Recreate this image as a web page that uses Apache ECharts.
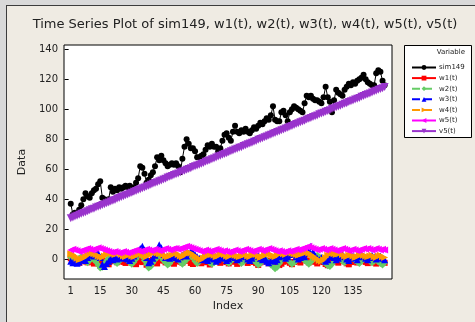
<!DOCTYPE html>
<html>
<head>
<meta charset="utf-8">
<script src="https://cdn.jsdelivr.net/npm/echarts@6/dist/echarts.min.js"></script>
<style>
  body { margin: 0; background: #d9d9d9; }
  .frame { position: absolute; left: 6px; top: 5px; width: 469px; height: 317px;
    background: #efebe3; border-left: 1px solid #3c3c3c; border-top: 1px solid #3c3c3c; box-sizing: border-box; }
  #chart { position: absolute; left: 0; top: 0; width: 475px; height: 322px; }
</style>
</head>
<body>
<div class="frame"></div>
<div id="chart"></div>
<script>
  // values
  let xTicks = [1, 15, 30, 45, 60, 75, 90, 105, 120, 135];
  let yTicks = [0, 20, 40, 60, 80, 100, 120, 140];
  let seriesNames = ['sim149', 'w1(t)', 'w2(t)', 'w3(t)', 'w4(t)', 'w5(t)', 'v5(t)'];

  let sim149 = [
    37, 30, 31, 30, 33, 36, 40, 44, 42, 41, 44, 46, 47, 50, 52, 41, 40, 39, 40, 48,
    45, 47, 46, 48, 47, 48, 49, 48, 49, 45, 48, 51, 54, 62, 61, 57, 51, 53, 56, 58,
    62, 68, 66, 69, 66, 64, 62, 63, 64, 63, 64, 62, 58, 67, 75, 80, 77, 74, 74, 72,
    68, 68, 69, 70, 73, 76, 75, 77, 75, 75, 72, 74, 79, 83, 84, 81, 79, 85, 89, 85,
    84, 86, 85, 87, 85, 84, 86, 88, 87, 89, 91, 90, 92, 94, 93, 96, 102, 93, 92, 92,
    98, 99, 96, 92, 98, 100, 102, 101, 100, 99, 98, 104, 109, 108, 109, 107, 106, 106, 105, 104,
    108, 115, 108, 105, 98, 106, 113, 111, 110, 109, 113, 115, 117, 116, 118, 117, 119, 120, 121, 123,
    120, 118, 117, 116, 116, 124, 126, 125, 119, 116
  ];

  let w1 = [
    0.5, -1.2, -2.0, -0.8, -2.5, -1.0, 0.3, -1.6, -2.2, -0.5,
    -1.8, -3.0, -1.1, -0.2, -4.2, -2.8, -1.0, -2.4, -3.5, -1.5,
    0.2, -0.9, -2.1, -1.3, -0.4, -1.9, -2.6, -0.7, 0.4, -1.4,
    -2.3, -3.4, -1.6, -0.6, -2.0, -1.1, -3.8, -2.5, -1.2, -0.3,
    -1.7, -2.9, -0.8, 0.6, -1.0, -2.2, -1.5, -0.4, -2.7, -3.1,
    -1.3, -0.2, -1.8, -2.4, -0.9, 0.5, -1.1, -2.6, -3.3, -1.7,
    -0.5, -1.4, -2.8, -1.9, -0.6, -2.1, -3.6, -2.3, -1.0, 0.2,
    -1.2, -2.5, -1.6, -0.3, -2.0, -2.9, -1.4, -0.7, -1.8, -3.2,
    -2.1, -0.8, 0.4, -1.3, -2.6, -1.5, -0.2, -1.9, -2.7, -3.9,
    -2.2, -1.1, -0.4, -1.7, -2.8, -1.0, 0.3, -1.6, -2.4, -4.0,
    -3.1, -1.8, -0.6, -1.2, -2.5, -3.4, -1.9, -0.9, -1.5, -2.3,
    -0.7, 0.5, -1.0, -2.2, -1.4, -0.3, -1.8, -2.9, -1.6, -0.8,
    -2.0, -3.3, -4.1, -2.6, -1.3, -0.5, -1.7, -2.4, -1.1, -0.2,
    -1.5, -2.8, -3.5, -2.0, -0.9, -1.6, -2.3, -1.2, 0.1, -0.8,
    -1.9, -2.7, -1.4, -0.6, -2.1, -3.0, -1.8, -0.7, -1.3, -2.5
  ];

  let w2 = [
    1.0, -0.5, -2.0, -1.0, 0.5, 1.5, 0.0, -1.5, -2.5, -1.0,
    0.5, -0.5, -2.0, -4.0, -6.0, -5.5, -3.0, -1.0, 0.5, 1.0,
    -0.5, -2.0, -3.0, -1.5, 0.0, 1.5, 0.5, -1.0, -2.5, -3.5,
    -2.0, 0.0, 2.0, 3.0, 1.5, -1.0, -3.5, -6.0, -5.0, -2.5,
    -0.5, 1.0, 2.5, 1.0, -1.0, -2.5, -4.0, -3.0, -1.0, 0.5,
    1.5, 0.0, -2.0, -3.5, -2.0, -0.5, 1.0, 2.0, 0.5, -1.5,
    -3.0, -2.0, 0.0, 1.5, 0.5, -1.0, -2.5, -3.5, -2.5, -1.0,
    0.5, 2.0, 1.0, -0.5, -2.0, -3.0, -1.5, 0.0, 1.0, 0.0,
    -1.5, -3.0, -2.0, -0.5, 1.0, 2.0, 0.5, -1.0, -2.5, -4.0,
    -3.0, -1.0, 0.5, -1.0, -2.5, -4.0, -5.0, -6.5, -5.5, -3.0,
    -1.0, 0.5, 1.5, 0.0, -2.0, -3.5, -2.5, -1.0, 0.5, 1.5,
    0.5, -1.0, -2.0, -3.5, -2.0, -0.5, 1.0, 2.5, 1.5, -0.5,
    -2.0, -3.0, -4.5, -5.0, -3.5, -1.5, 0.0, 1.0, 0.0, -1.5,
    -2.5, -1.0, 0.5, 1.5, 0.5, -1.0, -2.0, -3.0, -1.5, 0.0,
    1.0, 0.0, -1.5, -2.5, -1.5, -0.5, -2.0, -3.0, -4.0, -2.5
  ];

  let w3 = [
    -1.5, -2.5, -1.0, -2.8, -2.0, -0.5, 0.5, -1.0, 1.0, 2.5,
    3.5, 2.0, 3.0, 4.0, 1.0, -3.5, -5.0, -3.0, -1.5, 0.5,
    -0.5, 1.5, 0.0, 1.0, 2.0, 0.5, 1.5, 0.0, -1.0, 0.5,
    2.0, 3.5, 5.5, 7.0, 8.5, 6.0, 1.0, -2.5, -1.5, 0.5,
    2.5, 5.0, 9.5, 7.5, 3.0, 1.0, 2.0, 0.5, 1.5, 2.5,
    1.0, 0.0, 1.5, 2.5, 3.5, 2.0, 4.0, 5.0, 4.5, 3.0,
    1.5, 0.5, -0.5, 1.0, 0.0, -1.0, 0.5, 1.5, 0.0, -1.5,
    -0.5, 1.0, 2.0, 0.5, -1.0, 0.0, 1.5, 2.5, 1.0, -0.5,
    0.5, 2.0, 3.0, 1.5, 0.0, -1.0, 0.5, 2.0, 3.5, 2.0,
    0.5, -0.5, 1.0, -1.5, -2.5, -1.0, 0.5, -1.5, -0.5, 1.5,
    3.0, 2.0, 0.5, 1.5, 3.0, 4.5, 3.0, 1.5, 0.0, 1.0,
    2.5, 1.5, 3.5, 6.0, 8.5, 5.0, 2.0, 0.5, -0.5, 1.0,
    0.0, -1.5, -0.5, 1.5, 2.5, 1.0, -0.5, 0.5, 2.0, 3.0,
    1.5, 0.0, -1.0, 0.5, 2.0, 1.0, -0.5, 1.5, 3.0, 2.0,
    0.5, -0.5, 1.0, 2.5, 1.5, 0.0, 1.0, 2.0, 0.5, -0.5
  ];

  let w4 = [
    3.5, 3.0, 2.0, 0.5, -0.5, 0.0, 0.5, 1.5, 2.5, 3.5,
    4.0, 3.5, 3.0, 2.0, 1.5, 1.0, 2.0, 3.0, 3.5, 4.0,
    3.5, 3.0, 3.5, 4.0, 3.0, 2.0, 1.5, 2.5, 3.0, 2.0,
    1.5, 2.0, 3.0, 3.5, 3.0, 2.5, 1.5, 2.5, 3.5, 4.0,
    4.5, 4.0, 3.5, 4.0, 3.0, 2.0, 1.5, 2.0, 2.5, 3.5,
    4.0, 3.0, 2.0, 1.5, 2.5, 3.5, 4.5, 4.0, 3.0, 2.0,
    1.0, 0.0, -0.5, 0.5, 1.5, 2.5, 3.5, 3.0, 2.5, 1.5,
    2.0, 3.0, 3.5, 3.0, 2.0, 1.5, 2.5, 3.0, 2.5, 2.0,
    1.5, 2.0, 2.5, 3.0, 2.0, 1.5, 2.5, 3.5, 3.0, 2.0,
    1.0, 1.5, 2.5, 3.0, 3.5, 3.0, 2.0, 1.5, 2.5, 3.5,
    4.0, 3.5, 3.0, 4.0, 4.5, 4.0, 3.5, 3.0, 2.5, 3.0,
    3.5, 4.0, 4.5, 4.0, 3.0, 2.0, 1.0, 0.0, -1.0, -1.5,
    -0.5, 1.0, 2.5, 3.5, 4.0, 3.5, 3.0, 3.5, 4.0, 3.0,
    2.0, 1.5, 2.5, 3.0, 2.0, 1.0, 1.5, 2.5, 3.0, 2.5,
    2.0, 1.5, 2.0, 2.5, 1.5, 1.0, 2.0, 2.5, 1.5, 1.0
  ];

  let w5 = [
    6.0, 6.5, 6.0, 5.5, 5.0, 5.5, 6.0, 6.5, 7.0, 6.5,
    6.0, 6.5, 7.0, 7.5, 7.0, 6.5, 6.0, 5.5, 5.0, 4.5,
    4.5, 5.0, 4.5, 4.0, 4.5, 5.0, 4.5, 4.0, 4.5, 5.0,
    5.5, 6.0, 5.5, 5.0, 5.5, 6.0, 6.5, 6.0, 5.5, 6.0,
    6.5, 6.0, 5.5, 6.0, 6.5, 7.0, 6.5, 6.0, 6.5, 7.0,
    7.0, 6.5, 7.0, 7.5, 8.0, 8.5, 8.0, 7.5, 7.0, 6.5,
    6.0, 5.5, 5.0, 5.5, 6.0, 5.5, 5.0, 5.5, 6.0, 6.5,
    6.0, 5.5, 5.0, 5.5, 5.0, 4.5, 5.0, 5.5, 6.0, 5.5,
    5.0, 5.5, 6.0, 6.5, 6.0, 5.5, 5.0, 5.5, 6.0, 6.5,
    6.0, 5.5, 6.0, 6.5, 7.0, 6.5, 6.0, 5.5, 5.0, 5.5,
    5.0, 4.5, 5.0, 5.5, 5.0, 5.5, 6.0, 6.5, 6.0, 6.5,
    7.0, 7.5, 8.0, 8.5, 7.5, 7.0, 6.5, 6.0, 6.5, 7.0,
    6.5, 6.0, 6.5, 7.0, 6.5, 6.0, 5.5, 6.0, 6.5, 7.0,
    6.5, 6.0, 5.5, 6.0, 6.5, 6.0, 5.5, 6.0, 6.5, 7.0,
    6.5, 7.0, 6.5, 6.0, 6.5, 7.0, 6.5, 6.0, 6.5, 6.0
  ];

  let v5 = [
    27.3, 27.7, 28.5, 29.0, 29.6, 30.3, 30.8, 31.3, 32.0, 32.6,
    33.2, 33.6, 34.4, 34.9, 35.5, 36.1, 36.6, 37.3, 37.8, 38.5,
    39.0, 39.5, 40.3, 40.7, 41.4, 41.9, 42.6, 43.1, 43.8, 44.3,
    44.9, 45.4, 46.1, 46.6, 47.3, 47.8, 48.5, 49.0, 49.6, 50.2,
    50.8, 51.3, 52.0, 52.5, 53.2, 53.6, 54.4, 54.9, 55.5, 56.1,
    56.7, 57.2, 57.9, 58.4, 59.0, 59.6, 60.2, 60.7, 61.4, 61.9,
    62.5, 63.0, 63.7, 64.2, 64.9, 65.4, 66.0, 66.6, 67.2, 67.8,
    68.4, 68.9, 69.6, 70.1, 70.7, 71.3, 71.9, 72.4, 73.1, 73.6,
    74.3, 74.7, 75.5, 76.0, 76.6, 77.2, 77.7, 78.4, 78.9, 79.6,
    80.1, 80.7, 81.3, 81.8, 82.5, 83.0, 83.7, 84.2, 84.8, 85.4,
    86.0, 86.5, 87.2, 87.7, 88.4, 88.9, 89.5, 90.1, 90.7, 91.3,
    91.9, 92.4, 93.1, 93.6, 94.2, 94.8, 95.4, 95.9, 96.6, 97.1,
    97.7, 98.3, 98.9, 99.4, 100.1, 100.6, 101.3, 101.8, 102.4, 103.0,
    103.6, 104.1, 104.8, 105.3, 105.9, 106.5, 107.1, 107.6, 108.3, 108.8,
    109.5, 110.0, 110.6, 111.2, 111.8, 112.3, 113.0, 113.5, 114.1, 114.8
  ];

  let font = 'DejaVu Sans';

  function pairs(values) {
    return values.map((v, i) => [i + 1, v]);
  }

  function mkSeries(name, values, color, symbol, size, rotate, lineType) {
    return {
      name: name,
      type: 'line',
      data: pairs(values),
      symbol: symbol,
      symbolSize: size,
      symbolRotate: rotate,
      showSymbol: true,
      animation: false,
      itemStyle: { color: color },
      lineStyle: { color: color, width: 1, type: lineType },
      emphasis: { disabled: true }
    };
  }

  let myChart = echarts.init(document.getElementById('chart'));

  let option = {
    animation: false,
    graphic: [
      {
        type: 'text', x: 245, y: 18,
        style: {
          text: 'Time Series Plot of sim149, w1(t), w2(t), w3(t), w4(t), w5(t), v5(t)',
          font: '13px "DejaVu Sans"', fill: '#222', textAlign: 'center'
        }
      },
      {
        type: 'rect', shape: { x: 404.5, y: 45.5, width: 67, height: 92 },
        style: { fill: '#fff', stroke: '#000', lineWidth: 1 }, z: -1
      },
      {
        type: 'text', x: 465, y: 49,
        style: { text: 'Variable', font: '7px "DejaVu Sans"', fill: '#222', textAlign: 'right' }
      }
    ],
    grid: {
      show: true,
      backgroundColor: '#fff',
      borderColor: '#000',
      borderWidth: 1,
      left: 64, right: 83, top: 45, bottom: 43
    },
    legend: {
      orient: 'vertical',
      left: 406, top: 59,
      itemWidth: 24, itemHeight: 6,
      itemGap: 3.6,
      data: seriesNames,
      textStyle: { fontFamily: font, fontSize: 7, color: '#222', padding: [0, 0, 0, -2] }
    },
    xAxis: {
      type: 'value',
      min: -2.2, max: 153.5,
      name: 'Index',
      nameLocation: 'middle',
      nameGap: 20,
      nameTextStyle: { fontFamily: font, fontSize: 11, color: '#222' },
      splitLine: { show: false },
      axisLine: { show: false },
      axisTick: { show: true, length: 4, customValues: xTicks, lineStyle: { color: '#000' } },
      axisLabel: { customValues: xTicks, fontFamily: font, fontSize: 10, color: '#222', margin: 7 }
    },
    yAxis: {
      type: 'value',
      min: -13.3, max: 142.9,
      name: 'Data',
      nameLocation: 'middle',
      nameGap: 31,
      nameTextStyle: { fontFamily: font, fontSize: 11, color: '#222' },
      splitLine: { show: false },
      axisLine: { show: false },
      axisTick: { show: true, length: 4, customValues: yTicks, lineStyle: { color: '#000' } },
      axisLabel: { customValues: yTicks, fontFamily: font, fontSize: 10, color: '#222', margin: 6 }
    },
    series: [
      mkSeries(seriesNames[0], sim149, '#000000', 'circle', 6, 0, 'solid'),
      mkSeries(seriesNames[1], w1, '#ff0000', 'rect', 6, 0, 'solid'),
      mkSeries(seriesNames[2], w2, '#66cc66', 'diamond', 7, 0, 'dashed'),
      mkSeries(seriesNames[3], w3, '#0000ff', 'triangle', 7, 0, 'dashed'),
      mkSeries(seriesNames[4], w4, '#ff9900', 'triangle', 7, -90, 'dashed'),
      mkSeries(seriesNames[5], w5, '#ff00ff', 'triangle', 7, 90, 'solid'),
      mkSeries(seriesNames[6], v5, '#9933cc', 'triangle', 8, 180, 'solid')
    ]
  };

  myChart.setOption(option);
</script>
</body>
</html>
